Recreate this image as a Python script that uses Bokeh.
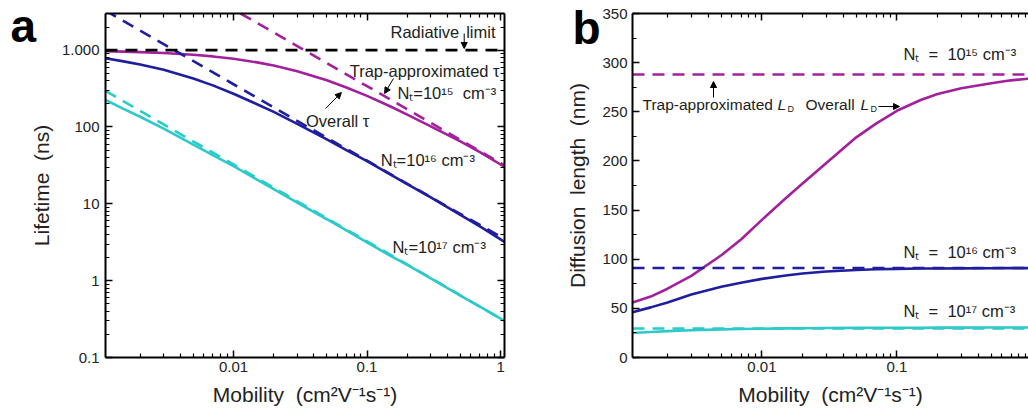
import math
from bokeh.plotting import figure
from bokeh.layouts import row
from bokeh.models import (Range1d, FixedTicker, LogAxis, Label, Arrow,
                          NormalHead, CustomJSTickFormatter)
from bokeh.embed import file_html
from bokeh.resources import INLINE

# ---------------- data ----------------
mobility = [0.0011, 0.0015, 0.002, 0.003, 0.005, 0.007, 0.01, 0.015, 0.02, 0.03,
            0.05, 0.07, 0.1, 0.15, 0.2, 0.3, 0.5, 0.7, 1.0, 1.07]

# panel a: lifetime (ns)
tau_overall_nt15 = [969, 958, 944, 919, 872, 829, 773, 694, 630, 531,
                    405, 327, 254, 185, 145, 102, 65, 47, 32.5, 30.5]
tau_overall_nt16 = [785, 715, 650, 555, 428, 348, 271, 198, 157, 110,
                    69, 50, 36, 24, 18, 12.1, 7.2, 5.1, 3.45, 3.2]
tau_overall_nt17 = [225, 172, 136, 95, 59, 43, 31, 20.6, 15.5, 10.4,
                    6.3, 4.5, 3.15, 2.1, 1.6, 1.07, 0.64, 0.46, 0.32, 0.30]

mobility_trap15 = [0.0113, 0.03, 0.1, 0.3, 1.07]
tau_trap_nt15 = [3000, 1130, 340, 113, 31.8]
mobility_trap = [0.0011, 0.003, 0.01, 0.03, 0.1, 0.3, 1.07]
tau_trap_nt16 = [3270, 1200, 360, 120, 36.5, 12.2, 3.5]
tau_trap_nt17 = [295, 108, 32.5, 10.8, 3.25, 1.08, 0.30]

mobility_limit = [0.0011, 1.07]
tau_radiative = [1000, 1000]

# panel b: diffusion length (nm)
L_overall_nt15 = [56, 62, 70, 83, 104, 120, 140, 162, 177, 198,
                  224, 238, 251, 262, 268, 274, 279, 282, 284, 285]
L_overall_nt16 = [46, 51, 56, 64, 72, 76, 80, 83.5, 85.5, 87.5,
                  89, 89.8, 90.2, 90.5, 90.6, 90.7, 90.8, 90.9, 91, 91]
L_overall_nt17 = [25, 26, 26.8, 27.8, 28.6, 29, 29.3, 29.6, 29.8, 30,
                  30.1, 30.2, 30.3, 30.3, 30.4, 30.4, 30.5, 30.5, 30.5, 30.5]
L_trap_nt15 = [288, 288]
L_trap_nt16 = [91, 91]
L_trap_nt17 = [29.5, 29.5]

lifetime_ticks = [0.1, 1, 10, 100, 1000]
mobility_ticks = [0.01, 0.1, 1]
diffusion_ticks = [0, 50, 100, 150, 200, 250, 300, 350]

# ---------------- style ----------------
MAG = "#A3209D"
BLU = "#1E1E9E"
CYA = "#2CCACA"
TXT = "#222222"
FONT = "Liberation Sans"
LW = 2.6
DASH = "12 8"

log_minor_y = [k * 10.0 ** e for e in range(-1, 4) for k in range(2, 10)]
log_minor_x = [k * 10.0 ** e for e in range(-3, 1) for k in range(2, 10)]


def style_axis(ax, show_labels=True):
    ax.axis_line_width = 2
    ax.axis_line_color = "black"
    ax.major_tick_in = 7
    ax.major_tick_out = 0
    ax.minor_tick_in = 4
    ax.minor_tick_out = 0
    ax.major_tick_line_width = 1.5
    ax.minor_tick_line_width = 1.2
    ax.major_tick_line_color = "black"
    ax.minor_tick_line_color = "black"
    ax.major_label_text_font = FONT
    ax.major_label_text_color = TXT
    ax.major_label_standoff = 4
    ax.major_label_text_font_size = "15px"
    if not show_labels:
        ax.formatter = CustomJSTickFormatter(code="return '';")
        ax.major_label_text_font_size = "1px"
        ax.major_label_standoff = 0


def axis_title(ax, text):
    ax.axis_label = text
    ax.axis_label_text_font = FONT
    ax.axis_label_text_font_size = "21px"
    ax.axis_label_text_font_style = "normal"
    ax.axis_label_text_color = TXT


fmt_num = "return tick >= 1000 ? '1.000' : String(tick);"


def label(p, x, y, text, size="16.5px", align="left", baseline="middle",
          style="normal", angle=0.0):
    p.add_layout(Label(x=x, y=y, text=text, text_font=FONT, text_font_size=size,
                       text_align=align, text_baseline=baseline,
                       text_font_style=style, text_color=TXT, angle=angle))


def arrow(p, x0, y0, x1, y1):
    p.add_layout(Arrow(end=NormalHead(size=6, fill_color="black", line_color="black",
                                      line_width=1),
                       x_start=x0, y_start=y0, x_end=x1, y_end=y1,
                       line_color="black", line_width=1))


def panel_letter(p, text, x, y):
    # placed in the left side panel so that it is not clipped by the frame
    p.add_layout(Label(x=x, y=y, x_units="screen", y_units="screen", text=text,
                       text_font=FONT, text_font_size="46px", text_font_style="bold",
                       text_color="black", text_baseline="alphabetic"), "left")


# ---------------- panel a ----------------
AX0, AX1 = 0.0011, 1.07
AY0, AY1 = 0.1, 3000


def ax_(px):
    return 10 ** (math.log10(AX0) + (px - 98) / (504 - 98) * math.log10(AX1 / AX0))


def ay_(py):
    return 10 ** (math.log10(AY1) - (py - 13) / (357 - 13) * math.log10(AY1 / AY0))


pa = figure(width=520, height=410, x_axis_type="log", y_axis_type="log",
            x_range=Range1d(AX0, AX1), y_range=Range1d(AY0, AY1),
            output_backend="svg", toolbar_location=None,
            min_border_left=98, min_border_right=16, min_border_top=13,
            min_border_bottom=53)
pa.grid.visible = False
pa.outline_line_color = None
pa.background_fill_color = "white"
pa.border_fill_color = "white"

xt = FixedTicker(ticks=mobility_ticks, minor_ticks=log_minor_x)
yt = FixedTicker(ticks=lifetime_ticks, minor_ticks=log_minor_y)
for ax in pa.xaxis:
    ax.ticker = xt
    ax.formatter = CustomJSTickFormatter(code=fmt_num)
    style_axis(ax)
    axis_title(ax, "Mobility\u00a0 (cm\u00b2V\u207b\u00b9s\u207b\u00b9)")
    ax.axis_label_standoff = 8
for ax in pa.yaxis:
    ax.ticker = yt
    ax.formatter = CustomJSTickFormatter(code=fmt_num)
    style_axis(ax)
    ax.major_label_standoff = 6
    axis_title(ax, "Lifetime\u00a0 (ns)")
    ax.axis_label_standoff = 6
top_a = LogAxis(ticker=xt)
style_axis(top_a, False)
pa.add_layout(top_a, "above")
right_a = LogAxis(ticker=yt)
style_axis(right_a, False)
pa.add_layout(right_a, "right")

pa.line(mobility, tau_overall_nt15, line_color=MAG, line_width=LW)
pa.line(mobility, tau_overall_nt16, line_color=BLU, line_width=LW)
pa.line(mobility, tau_overall_nt17, line_color=CYA, line_width=LW)
pa.line(mobility_trap15, tau_trap_nt15, line_color=MAG, line_width=LW, line_dash=DASH)
pa.line(mobility_trap, tau_trap_nt16, line_color=BLU, line_width=LW, line_dash=DASH)
pa.line(mobility_trap, tau_trap_nt17, line_color=CYA, line_width=LW, line_dash=DASH)
pa.line(mobility_limit, tau_radiative, line_color="black", line_width=LW, line_dash=DASH)

panel_letter(pa, "a", 10, 332)

label(pa, ax_(458), ay_(31), "Radiative", align="right")
label(pa, ax_(465), ay_(31), "limit")
arrow(pa, ax_(463), ay_(33), ax_(463), ay_(48))
label(pa, ax_(499), ay_(70), "Trap-approximated \u03c4", align="right")
arrow(pa, ax_(391), ay_(78), ax_(382), ay_(93))
label(pa, ax_(395), ay_(92), "N\u209c=10\u00b9\u2075\u00a0 cm\u207b\u00b3")
label(pa, ax_(302), ay_(120), "Overall \u03c4")
arrow(pa, ax_(322), ay_(108), ax_(338), ay_(92))
label(pa, ax_(378), ay_(159), "N\u209c=10\u00b9\u2076 cm\u207b\u00b3")
label(pa, ax_(390), ay_(246), "N\u209c=10\u00b9\u2077 cm\u207b\u00b3")

# ---------------- panel b ----------------
BX0 = 0.0011
BX1 = 0.0011 * 10 ** (396 / 135.0)


def bx_(px):
    return 10 ** (math.log10(BX0) + (px - 632) / 135.0)


def by_(py):
    return 350.0 * (357 - py) / 344.0


pb = figure(width=508, height=410, x_axis_type="log",
            x_range=Range1d(BX0, BX1), y_range=Range1d(0, 350),
            output_backend="svg", toolbar_location=None,
            min_border_left=112, min_border_right=0, min_border_top=13,
            min_border_bottom=53)
pb.grid.visible = False
pb.outline_line_color = None
pb.background_fill_color = "white"
pb.border_fill_color = "white"

xtb = FixedTicker(ticks=mobility_ticks, minor_ticks=log_minor_x)
ytb = FixedTicker(ticks=diffusion_ticks, minor_ticks=[25, 75, 125, 175, 225, 275, 325])
for ax in pb.xaxis:
    ax.ticker = xtb
    ax.formatter = CustomJSTickFormatter(code=fmt_num)
    style_axis(ax)
    axis_title(ax, "Mobility\u00a0 (cm\u00b2V\u207b\u00b9s\u207b\u00b9)")
    ax.axis_label_standoff = 8
for ax in pb.yaxis:
    ax.ticker = ytb
    style_axis(ax)
    ax.major_label_standoff = 5
    axis_title(ax, "Diffusion\u00a0 length\u00a0 (nm)")
    ax.axis_label_standoff = 10
top_b = LogAxis(ticker=xtb)
style_axis(top_b, False)
pb.add_layout(top_b, "above")

pb.line(mobility, L_overall_nt15, line_color=MAG, line_width=LW)
pb.line(mobility, L_overall_nt16, line_color=BLU, line_width=LW)
pb.line(mobility, L_overall_nt17, line_color=CYA, line_width=LW)
pb.line(mobility_limit, L_trap_nt15, line_color=MAG, line_width=LW, line_dash=DASH)
pb.line(mobility_limit, L_trap_nt16, line_color=BLU, line_width=LW, line_dash=DASH)
pb.line(mobility_limit, L_trap_nt17, line_color=CYA, line_width=LW, line_dash=DASH)

panel_letter(pb, "b", 37, 330)

label(pb, bx_(903), by_(53), "N\u209c\u00a0 = \u00a010\u00b9\u2075 cm\u207b\u00b3")
label(pb, bx_(903), by_(251), "N\u209c\u00a0 = \u00a010\u00b9\u2076 cm\u207b\u00b3")
label(pb, bx_(903), by_(310), "N\u209c\u00a0 = \u00a010\u00b9\u2077 cm\u207b\u00b3")
label(pb, bx_(642), by_(104), "Trap-approximated", size="15.5px")
label(pb, bx_(777), by_(104), "L", size="15.5px", style="italic")
label(pb, bx_(787), by_(108), "D", size="9px")
label(pb, bx_(805), by_(104), "Overall", size="15.5px")
label(pb, bx_(860), by_(104), "L", size="15.5px", style="italic")
label(pb, bx_(870), by_(108), "D", size="9px")
arrow(pb, bx_(713), by_(97), bx_(713), by_(81))
arrow(pb, bx_(878), by_(106), bx_(899), by_(106))

layout = row(pa, pb)
open("out.html", "w").write(file_html(layout, INLINE))
